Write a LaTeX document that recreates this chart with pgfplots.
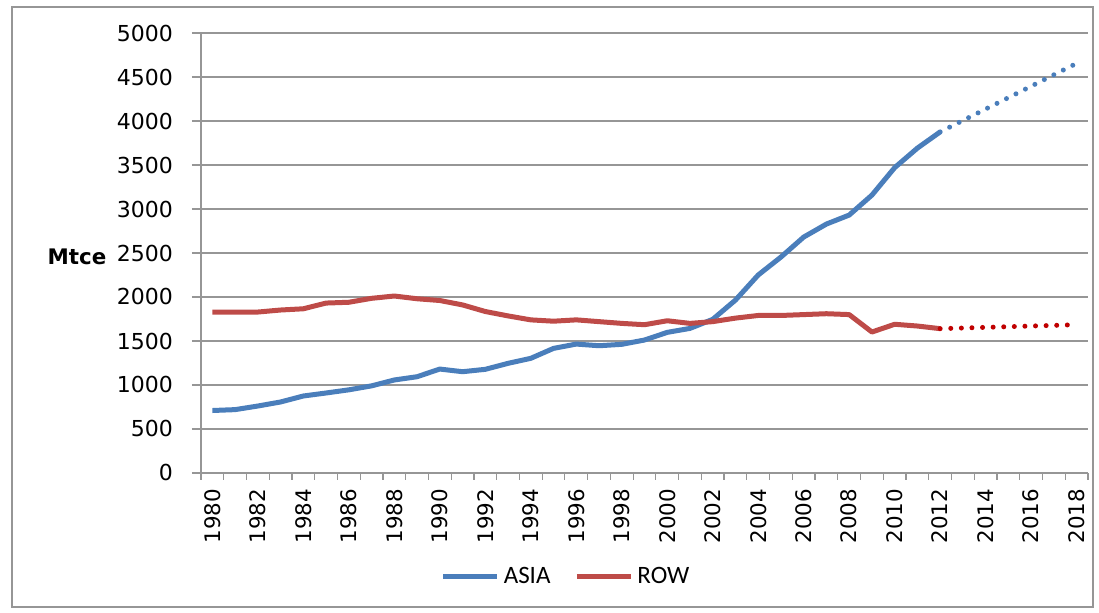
\documentclass[border=0pt]{standalone}
\usepackage{fontspec}
\usepackage{pgfplots}
\pgfplotsset{compat=1.18}
\setmainfont{DejaVu Sans}
\newfontfamily\legfont{Carlito}
\definecolor{asia}{RGB}{74,126,187}
\definecolor{row}{RGB}{190,75,72}
\definecolor{rowdot}{RGB}{192,0,0}
\definecolor{gridc}{RGB}{150,150,150}
\begin{document}
\begin{tikzpicture}
\useasboundingbox (-100.5pt,-70pt) rectangle (449pt,236.5pt);
\draw[gridc, line width=0.7pt] (-94.5pt,-67pt) rectangle (446pt,233pt);
\begin{axis}[
  at={(0pt,0pt)}, anchor=south west,
  scale only axis, width=443.5pt, height=220pt,
  xmin=1979.5, xmax=2018.5, ymin=0, ymax=5000,
  axis lines*=left,
  axis line style={gridc, line width=0.6pt},
  xtick={1980,1982,...,2018},
  minor xtick={1979.5,1980.5,...,2018.5},
  ytick={0,500,...,5000},
  tick align=outside,
  tick style={gridc, line width=0.6pt},
  major x tick style={draw=none},
  minor tick length=3.5pt,
  major tick length=4.5pt,
  ymajorgrids,
  grid style={gridc, line width=0.6pt},
  /pgf/number format/assume math mode=true,
  /pgf/number format/1000 sep={},
  xticklabel style={rotate=90, anchor=east, font=\fontsize{10.7}{12}\selectfont},
  yticklabel style={xshift=-6pt, font=\fontsize{11}{12}\selectfont},
  ylabel={\textbf{Mtce}},
  ylabel style={at={(axis description cs:-0.1398,0.4909)}, rotate=-90, anchor=center, font=\fontsize{10.7}{12}\selectfont},
  legend columns=2,
  legend style={at={(axis description cs:0.4127,-0.236)}, anchor=center, draw=none, fill=none,
    font=\legfont\fontsize{12.5}{14}\selectfont, inner sep=0pt,
    /tikz/every even column/.append style={column sep=10pt}},
  legend image code/.code={\draw[#1] (0pt,0pt) -- (27pt,0pt);},
  legend cell align=left,
]
\addplot[asia, line width=2.5pt, line join=round] coordinates {
(1980,710) (1981,720) (1982,761) (1983,807) (1984,875) (1985,909) (1986,945)
(1987,990) (1988,1057) (1989,1094) (1990,1181) (1991,1151) (1992,1178)
(1993,1246) (1994,1303) (1995,1416) (1996,1465) (1997,1446) (1998,1462)
(1999,1511) (2000,1598) (2001,1643) (2002,1746) (2003,1965) (2004,2250)
(2005,2454) (2006,2681) (2007,2829) (2008,2931) (2009,3158) (2010,3470)
(2011,3692) (2012,3876)
};
\addlegendentry{ASIA}
\addplot[row, line width=2.5pt, line join=round] coordinates {
(1980,1829) (1981,1829) (1982,1829) (1983,1852) (1984,1866) (1985,1931)
(1986,1940) (1987,1985) (1988,2011) (1989,1980) (1990,1960) (1991,1910)
(1992,1835) (1993,1785) (1994,1740) (1995,1725) (1996,1740) (1997,1720)
(1998,1700) (1999,1685) (2000,1730) (2001,1700) (2002,1720) (2003,1760)
(2004,1790) (2005,1790) (2006,1800) (2007,1810) (2008,1800) (2009,1602)
(2010,1690) (2011,1670) (2012,1640)
};
\addlegendentry{ROW}
\addplot[asia, line width=2.5pt, line cap=round, dash pattern=on 0pt off 5.3pt, forget plot] coordinates {
(2012,3876) (2018,4655)
};
\addplot[rowdot, line width=2.5pt, line cap=round, dash pattern=on 0pt off 5.3pt, forget plot] coordinates {
(2012,1640) (2018,1685)
};
\end{axis}
\end{tikzpicture}
\end{document}
